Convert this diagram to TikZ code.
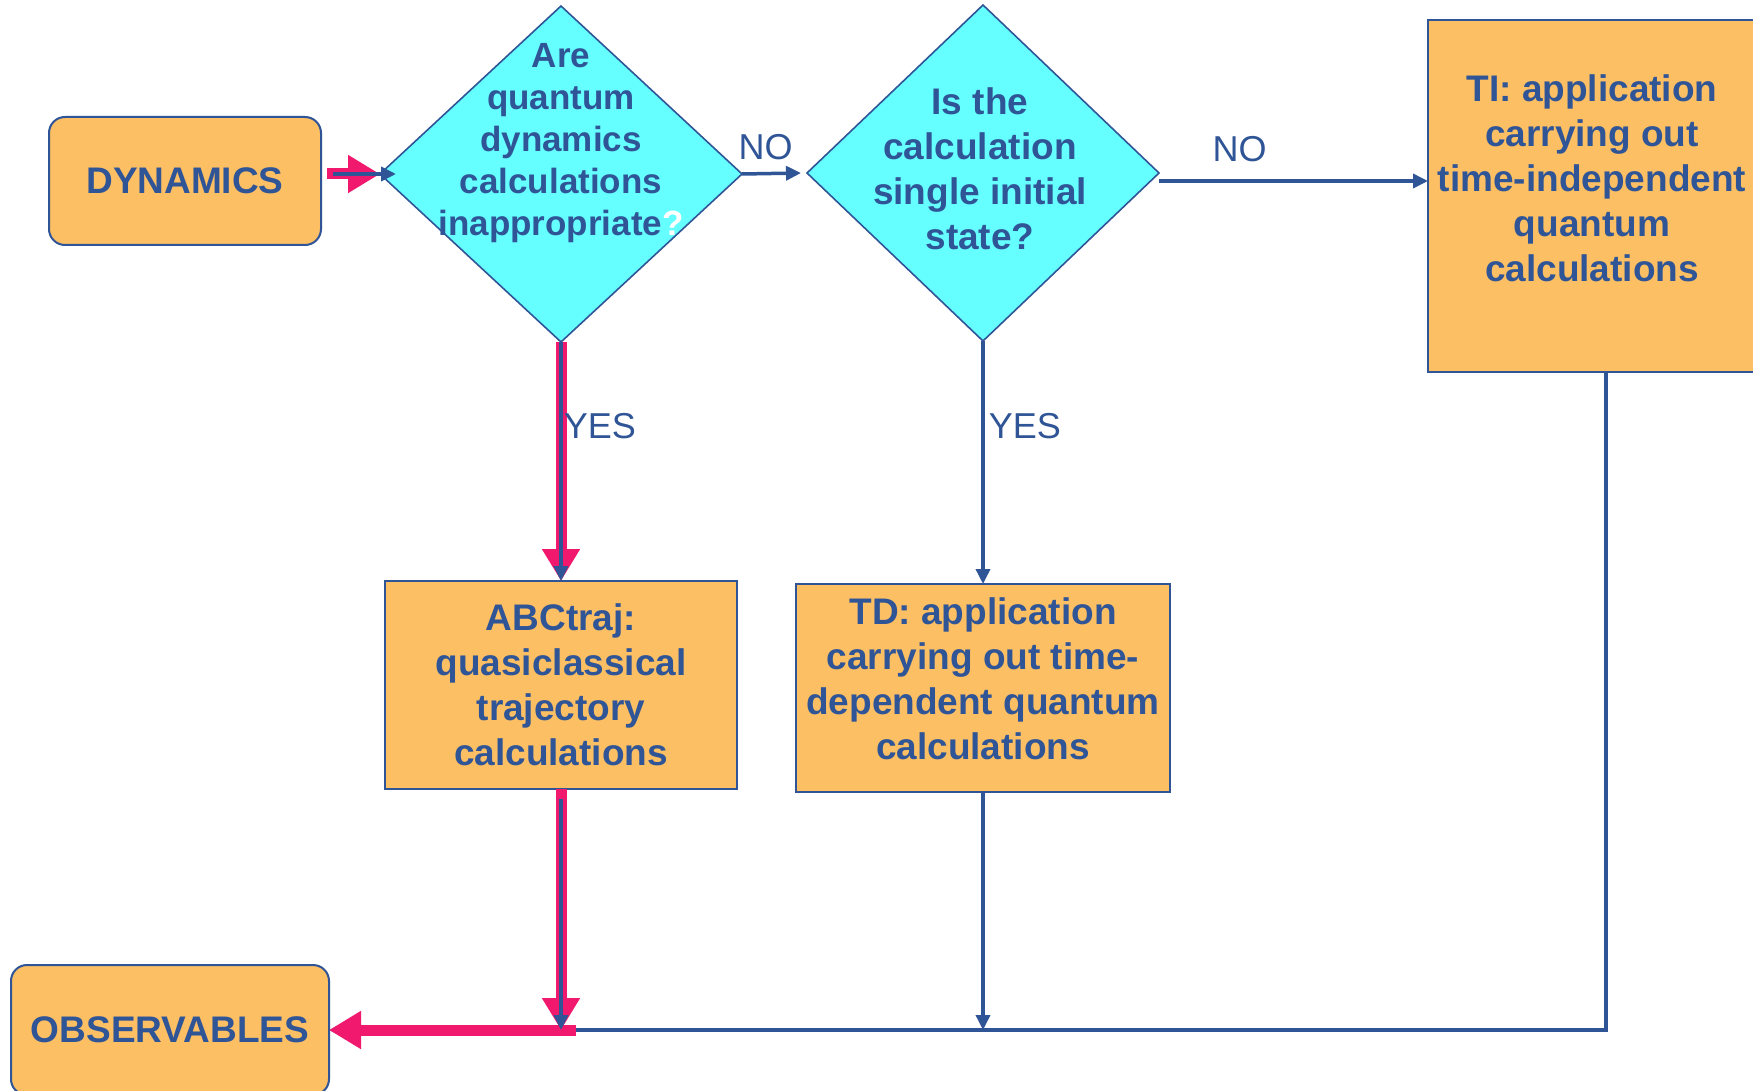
\documentclass[tikz,border=0pt]{standalone}
\usepackage{fontspec}
\setmainfont{Liberation Sans}
\usetikzlibrary{arrows.meta, shapes.geometric}

\definecolor{boxorange}{RGB}{252,191,100}
\definecolor{qcyan}{RGB}{102,255,255}
\definecolor{dkblue}{RGB}{47,85,151}
\definecolor{hotpink}{RGB}{240,25,110}

\begin{document}
\begin{tikzpicture}[
    x=1pt, y=-1pt,
    term/.style={rectangle, rounded corners=16pt, draw=dkblue, line width=2pt, fill=boxorange, text=dkblue, font=\fontsize{37}{45}\selectfont\bfseries, inner sep=0pt, outer sep=0pt},
    proc/.style={rectangle, draw=dkblue, line width=2pt, fill=boxorange, text=dkblue, font=\fontsize{37}{45}\selectfont\bfseries, align=center, inner sep=0pt, outer sep=0pt},
    decision/.style={diamond, draw=dkblue, line width=1.6pt, fill=qcyan, inner sep=0pt, outer sep=0pt},
    qtext/.style={text=dkblue, font=\fontsize{35}{42}\selectfont\bfseries, align=center, inner sep=0pt},
    lbl/.style={text=dkblue, font=\fontsize{36}{40}\selectfont, inner sep=0pt},
    flow/.style={draw=dkblue, line width=3.5pt, -{Triangle[length=15pt, width=14pt]}},
    hot/.style={draw=hotpink, line width=11pt, -{Triangle[length=32pt, width=36pt]}}
]
\useasboundingbox (0,0) rectangle (1753,1091);
\fill[white] (0,0) rectangle (1753,1091);

% Start and end
\node[term, minimum width=272pt, minimum height=128pt] (dyn) at (185,181) {DYNAMICS};
\node[term, minimum width=318pt, minimum height=130pt] (obs) at (170,1030) {OBSERVABLES};

% Questions
\node[decision, minimum width=362pt, minimum height=336pt] (dq1) at (561,174) {};
\node[qtext] (dq1-text) at (561,143) {Are\\quantum\\dynamics\\calculations\\inappropriate\textcolor{white}{?}};
\node[decision, minimum width=352pt, minimum height=336pt] (dq2) at (983,173) {};
\node[qtext, font=\fontsize{37}{45}\selectfont\bfseries] (dq2-text) at (980,169) {Is the\\calculation\\single initial\\state?};

% Applications
\node[proc, minimum width=352pt, minimum height=208pt] (abc) at (561,685) {ABCtraj:\\quasiclassical\\trajectory\\calculations};
\node[proc, minimum width=374pt, minimum height=208pt] (td) at (983,688) {};
\node[qtext, font=\fontsize{37}{45}\selectfont\bfseries] (td-text) at (983,679) {TD: application\\carrying out time-\\dependent quantum\\calculations};
\node[proc, minimum width=332pt, minimum height=352pt] (ti) at (1594,196) {};
\node[qtext, font=\fontsize{37}{45}\selectfont\bfseries] (ti-text) at (1592,178) {TI: application\\carrying out\\time-independent\\quantum\\calculations};

\coordinate (merge) at (abc.south |- obs.east);

% Plain connectors
\draw[flow] (dq1.east) -- node[lbl, above=12pt, pos=0.4] (no1) {NO} ([xshift=-6pt]dq2.west);
\draw[flow] ([yshift=-8pt]dq2.east) -- node[lbl, above=17pt, pos=0.3] (no2) {NO} ([yshift=-8pt]dq2.east -| ti.west);
\draw[flow] (dq2.south) -- node[lbl, right=4pt, pos=0.35] (yes2) {YES} (td.north);
\draw[flow] (td.south) -- (td.south |- merge);
\draw[flow] ([xshift=12pt]ti.south) |- (obs.east);

% Highlighted path
\draw[hot, shorten <=6pt] (dyn.east |- dq1.west) -- (dq1.west);
\draw[hot] (dq1.south) -- (abc.north);
\draw[hot] (abc.south) -- (merge);
\draw[hot] ([xshift=15pt]merge) -- (obs.east);

% Blue arrows on top of the highlight
\draw[flow] ([xshift=12pt]dyn.east |- dq1.west) -- ([xshift=16pt]dq1.west);
\draw[flow] (dq1.south) -- node[lbl, right=1pt, pos=0.35] (yes1) {YES} (abc.north);
\draw[flow] ([yshift=-10pt]abc.south) -- (merge);
\end{tikzpicture}
\end{document}
